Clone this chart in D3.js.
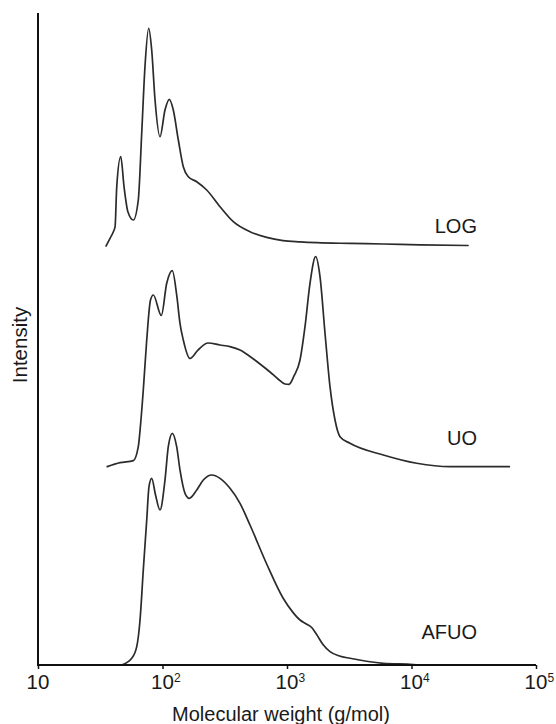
<!DOCTYPE html>
<html>
<head>
<meta charset="utf-8">
<script src="https://cdn.jsdelivr.net/npm/d3@7"></script>
<style>
  html, body { margin: 0; padding: 0; background: #fff; }
  svg { display: block; font-family: Arial, "Liberation Sans", sans-serif; }
</style>
</head>
<body>
<svg id="chart" width="556" height="724"></svg>
<script>
// ---- data ----
const seriesNames = ["LOG", "UO", "AFUO"];
const seriesOffsets = [64.26, 30.37, 0];   // vertical stacking offsets (intensity units)

const logMW = [35.2, 37.9, 40.3, 41.6, 42.9, 46.2, 49.1, 52.8, 58.3, 63.9, 68.1, 72.3, 77.5, 81.9, 87.1, 95.5,
  104.7, 113.4, 122.1, 134.0, 146.9, 161.2, 188.3, 226.5, 289.6, 370.4, 504.4, 686.9, 928.9, 1272, 1742, 3207,
  5904, 11700, 28430];
const logI = [0, 1.18, 2.19, 2.96, 9.09, 13.70, 9.09, 5.21, 3.99, 7.06, 17.33, 27.5, 33.39, 30.06, 22.39, 16.76,
  20.86, 22.5, 20.86, 16.26, 12.16, 10.63, 9.86, 8.59, 6.03, 3.73, 2.19, 1.33, 0.84, 0.64, 0.51, 0.40,
  0.31, 0.18, 0.08];

const uoMW = [36.0, 45.6, 58.3, 63.9, 66.6, 70.1, 74.7, 80.1, 84.4, 97.8, 108.1, 119.9, 130.0, 138.2, 146.9, 166.3,
  192.8, 232.1, 289.6, 348.5, 419.4, 504.4, 606.9, 730.2, 846.8, 963.6, 1038, 1138, 1272, 1395, 1530, 1700, 1841,
  2020, 2215, 2430, 2666, 3207, 5937, 11010, 20380, 61040];
const uoI = [0.05, 0.66, 0.97, 3.11, 6.44, 11.81, 19.48, 25.6, 26.38, 23.24, 28.17, 30.11, 26.38, 22.04, 19.48, 16.64,
  17.94, 19.02, 18.71, 18.45, 17.94, 16.95, 15.80, 14.57, 13.50, 12.73, 12.68, 13.96, 16.41, 21.52, 28.17, 32.25, 29.19,
  20.51, 12.32, 7.21, 4.65, 3.63, 1.84, 0.57, 0.05, 0.05];

const afuoMW = [47.0, 56.6, 62.1, 66.0, 70.1, 74.7, 77.9, 81.9, 87.9, 95.5, 104.7, 111.3, 119.9, 130.0, 138.2, 151.6,
  164.2, 188.3, 212.7, 248.4, 289.6, 348.5, 419.4, 504.4, 686.9, 928.9, 1124, 1272, 1420, 1579, 1720, 1960,
  2215, 2640, 3207, 5937, 10280, 11700];
const afuoI = [0, 1.03, 2.81, 6.90, 14.57, 22.24, 27.35, 28.63, 26.07, 23.77, 28.37, 33.48, 35.54, 33.48, 29.91, 26.33,
  25.57, 26.84, 28.37, 29.14, 28.63, 27.10, 24.80, 21.47, 15.49, 10.28, 8.0, 6.90, 6.34, 5.75, 4.75, 3.06,
  2.04, 1.38, 1.03, 0.26, 0.08, 0];

const xTicks = [10, 1e2, 1e3, 1e4, 1e5];
const xTickExp = ["", "2", "3", "4", "5"];
const xTitle = "Molecular weight (g/mol)";
const yTitle = "Intensity";

// ---- chart ----
const svg = d3.select("#chart");
const x = d3.scaleLog().domain([10, 1e5]).range([38, 536]);
const y = d3.scaleLinear().domain([0, 100]).range([665, 13]);

const series = [
  { name: seriesNames[0], off: seriesOffsets[0], mw: logMW, I: logI, labelLift: 2.0 },
  { name: seriesNames[1], off: seriesOffsets[1], mw: uoMW, I: uoI, labelLift: 3.4 },
  { name: seriesNames[2], off: seriesOffsets[2], mw: afuoMW, I: afuoI, labelLift: 4.0 }
];

const line = d3.line()
  .x(d => x(d[0]))
  .y(d => y(d[1]))
  .curve(d3.curveMonotoneX);

series.forEach(s => {
  const pts = s.mw.map((m, i) => [m, s.off + s.I[i]]);
  svg.append("path")
    .attr("d", line(pts))
    .attr("fill", "none")
    .attr("stroke", "#2b2b2b")
    .attr("stroke-width", 1.7)
    .attr("stroke-linejoin", "round")
    .attr("stroke-linecap", "round");
  svg.append("text")
    .attr("x", 477)
    .attr("y", y(s.off + s.labelLift))
    .attr("text-anchor", "end")
    .attr("font-size", 20)
    .attr("fill", "#1a1a1a")
    .text(s.name);
});

// x axis
const xAxis = d3.axisBottom(x).tickValues(xTicks).tickSize(4).tickFormat(() => "");
const gx = svg.append("g").attr("transform", `translate(0,${y(0)})`).call(xAxis);
gx.select(".domain").attr("stroke", "#111").attr("stroke-width", 2).attr("d", `M${x(10)},0H${x(1e5)}`);
gx.selectAll(".tick line").attr("stroke", "#111").attr("stroke-width", 1.5);

xTicks.forEach((t, i) => {
  svg.append("text")
    .attr("x", x(t))
    .attr("y", 689)
    .attr("text-anchor", "middle")
    .attr("font-size", 20.5)
    .attr("fill", "#1a1a1a")
    .text("10");
  if (xTickExp[i]) {
    svg.append("text")
      .attr("x", x(t) + 11.5)
      .attr("y", 682)
      .attr("text-anchor", "start")
      .attr("font-size", 12)
      .attr("fill", "#1a1a1a")
      .text(xTickExp[i]);
  }
});

// y axis (line only)
svg.append("line")
  .attr("x1", x(10)).attr("x2", x(10))
  .attr("y1", y(100)).attr("y2", y(0) + 1)
  .attr("stroke", "#111").attr("stroke-width", 2);

// titles
svg.append("text")
  .attr("x", 281).attr("y", 721)
  .attr("text-anchor", "middle")
  .attr("font-size", 20)
  .attr("fill", "#1a1a1a")
  .text(xTitle);

svg.append("text")
  .attr("transform", "translate(27,345) rotate(-90)")
  .attr("text-anchor", "middle")
  .attr("font-size", 20.5)
  .attr("fill", "#1a1a1a")
  .text(yTitle);
</script>
</body>
</html>
